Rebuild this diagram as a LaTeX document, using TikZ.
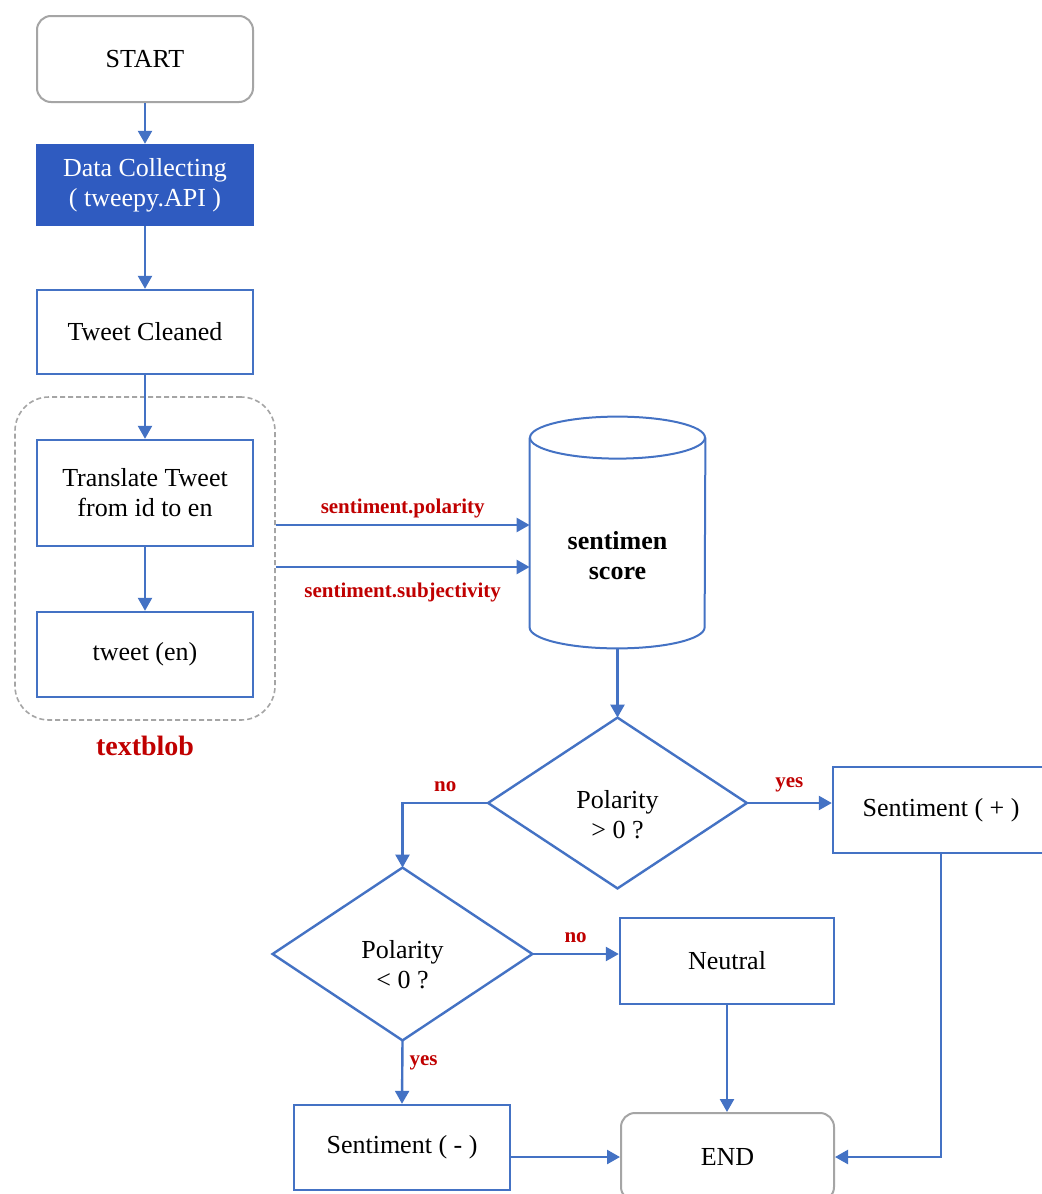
\documentclass[tikz,border=0pt]{standalone}
\usepackage{fontspec}
\setmainfont{Liberation Serif}
\usetikzlibrary{arrows.meta,calc}
\definecolor{flowblue}{RGB}{68,114,196}
\definecolor{darkfill}{RGB}{47,91,192}
\definecolor{boxgray}{RGB}{165,165,165}
\definecolor{labelred}{RGB}{192,0,0}

\begin{document}
\begin{tikzpicture}[x=0.5pt,y=-0.5pt,
  every node/.style={font=\fontsize{13}{15}\selectfont, align=center, inner sep=0pt},
  process/.style={draw=flowblue, line width=1.2pt, rectangle, minimum width=108pt, minimum height=42pt},
  terminal/.style={draw=boxgray, line width=1pt, rounded corners=7pt, rectangle, minimum width=108pt, minimum height=43pt},
  frame/.style={rectangle, inner sep=0pt},
  flow/.style={draw=flowblue, line width=1.2pt, -{Triangle[length=6.5pt,width=7pt]}},
  flowline/.style={draw=flowblue, line width=1.2pt},
  edgelabel/.style={font=\fontsize{10.5}{12}\selectfont\bfseries, text=labelred},
]
\useasboundingbox (0,0) rectangle (1041,1194);
\fill[white] (0,0) rectangle (1041,1194);

% --- left column: collection and preprocessing
\node[terminal] (start) at (145,59) {START};
\node[process, fill=darkfill, draw=darkfill, text=white, minimum height=40pt] (collect) at (145,185) {Data Collecting\\( tweepy.API )};
\node[process] (clean) at (145,332) {Tweet Cleaned};
\node[draw=boxgray, line width=0.8pt, dash pattern=on 2.5pt off 1.5pt, rounded corners=17pt,
      minimum width=130pt, minimum height=161.5pt] (blob) at (145,558.5) {};
\node[process, minimum height=53pt] (translate) at (145,493) {Translate Tweet\\from id to en};
\node[process, minimum height=42.5pt] (tweeten) at (145,654.5) {tweet (en)};
\node[font=\fontsize{14}{16}\selectfont\bfseries, text=labelred] (blobname) at (145,746) {textblob};

% --- score store (cylinder)
\node[frame, minimum width=87.5pt, minimum height=115.5pt] (score) at (617.5,532.5) {};
\draw[flowblue, line width=1pt, fill=white]
  ($(score.north west)+(0,21)$) -- ($(score.south west)+(0,-21)$)
  arc[start angle=180, end angle=360, x radius=43.75pt, y radius=10.5pt]
  -- ($(score.north east)+(0,21)$);
\draw[flowblue, line width=1pt] ($(score.north)+(0,21)$) ellipse[x radius=43.75pt, y radius=10.5pt];
\node[font=\fontsize{13}{15}\selectfont\bfseries] (scorelabel) at (617.5,556) {sentimen\\score};

% --- decisions
\node[frame, minimum width=129pt, minimum height=85pt] (pos) at (617.5,803) {};
\draw[flowline] (pos.north) -- (pos.east) -- (pos.south) -- (pos.west) -- cycle;
\node (poslabel) at (617.5,815) {Polarity\\> 0 ?};
\node[frame, minimum width=129.5pt, minimum height=86pt] (neg) at (402.5,954) {};
\draw[flowline] (neg.north) -- (neg.east) -- (neg.south) -- (neg.west) -- cycle;
\node (neglabel) at (402.5,965) {Polarity\\< 0 ?};

% --- outcomes
\node[process, minimum height=43pt] (spos) at (941,810) {Sentiment ( + )};
\node[process, minimum width=107pt, minimum height=43pt] (neutral) at (727,961) {Neutral};
\node[process, minimum height=42.5pt] (sneg) at (402,1147.5) {Sentiment ( - )};
\node[terminal, minimum width=106.5pt, minimum height=44pt] (end) at (727.5,1157) {END};

% --- connectors
\draw[flow] (start) -- (collect);
\draw[flow] (collect) -- (clean);
\draw[flow] (clean) -- (translate);
\draw[flow] (translate) -- (tweeten);

\coordinate (polsrc) at ($(blob.east)+(0,-33.5)$);
\coordinate (subsrc) at ($(blob.east)+(0,8.5)$);
\draw[flow] (polsrc) -- node[edgelabel, above=3pt] {sentiment.polarity} (polsrc -| score.west);
\draw[flow] (subsrc) -- node[edgelabel, below=7.5pt] {sentiment.subjectivity} (subsrc -| score.west);

\draw[flow] (score.south) -- (pos.north);
\draw[flow] (pos.east) -- node[edgelabel, above=5pt] {yes} (pos.east -| spos.west);
\draw[flow] (pos.west) -| node[pos=0.25, edgelabel, above=5pt] {no} (neg.north);
\draw[flow] (neg.east) -- node[edgelabel, above=5pt] {no} (neg.east -| neutral.west);
\draw[flow] (neg.south) -- node[pos=0.35, edgelabel, right=3pt] {yes} (sneg.north);

\draw[flow] (neutral.south) -- (neutral.south |- end.north);
\draw[flow] (sneg.east |- end.west) -- (end.west);
\draw[flow] (spos.south) |- (end.east);
\end{tikzpicture}
\end{document}
